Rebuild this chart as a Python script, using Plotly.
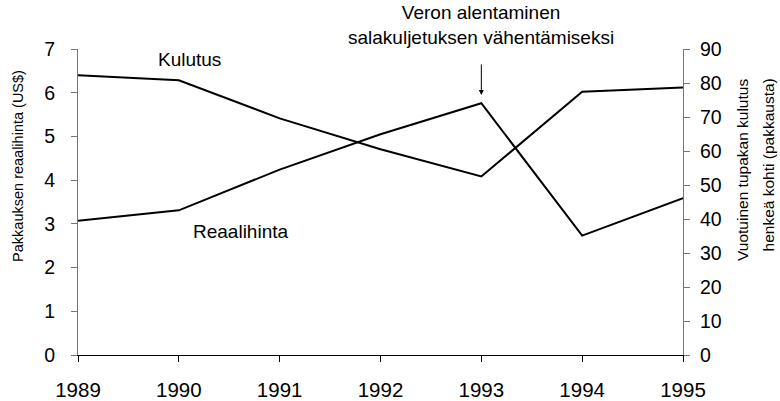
import plotly.graph_objects as go

years = [1989, 1990, 1991, 1992, 1993, 1994, 1995]
reaalihinta = [3.07, 3.31, 4.24, 5.05, 5.76, 2.73, 3.59]   # left axis, US$
kulutus = [82.3, 80.8, 69.6, 60.5, 52.5, 77.4, 78.7]       # right axis, packs

left_ticks = [0, 1, 2, 3, 4, 5, 6, 7]
right_ticks = [0, 10, 20, 30, 40, 50, 60, 70, 80, 90]

FONT = "Liberation Sans, Arial, sans-serif"

fig = go.Figure()
fig.add_trace(go.Scatter(x=years, y=reaalihinta, mode="lines", name="Reaalihinta",
                         line=dict(color="black", width=2), yaxis="y"))
fig.add_trace(go.Scatter(x=years, y=kulutus, mode="lines", name="Kulutus",
                         line=dict(color="black", width=2), yaxis="y2"))

fig.update_layout(
    width=780, height=401,
    margin=dict(l=78, r=97, t=49, b=45.5, autoexpand=False),
    paper_bgcolor="white", plot_bgcolor="white",
    showlegend=False,
    font=dict(family=FONT, color="black", size=20),
    xaxis=dict(range=[1989, 1995], tickvals=years, ticktext=[str(y) for y in years],
               showgrid=False, zeroline=False, showline=True, linecolor="black", linewidth=1,
               ticks="outside", ticklen=6, tickcolor="black", tickfont=dict(size=20.5),
               ticklabelstandoff=10, automargin=False),
    yaxis=dict(range=[0, 7], tickvals=left_ticks, showgrid=False, zeroline=False,
               showline=True, linecolor="#777777", linewidth=1,
               ticks="outside", ticklen=6, tickcolor="#777777", tickfont=dict(size=19.5),
               ticklabelstandoff=12, automargin=False),
    yaxis2=dict(range=[0, 90], tickvals=right_ticks, overlaying="y", side="right",
                showgrid=False, zeroline=False, showline=True, linecolor="#777777", linewidth=1,
                ticks="outside", ticklen=6, tickcolor="#777777", tickfont=dict(size=19.5),
                ticklabelstandoff=6, automargin=False),
)

PW = 605.0
annotations = [
    dict(x=1990.11, y=6.75, xref="x", yref="y", text="Kulutus", showarrow=False,
         font=dict(size=19), xanchor="center", yanchor="middle"),
    dict(x=1990.61, y=2.82, xref="x", yref="y", text="Reaalihinta", showarrow=False,
         font=dict(size=19), xanchor="center", yanchor="middle"),
    dict(x=1993, y=1.078, xref="x", yref="paper",
         text="Veron alentaminen<br>salakuljetuksen vähentämiseksi", showarrow=False,
         font=dict(size=19), xanchor="center", yanchor="middle"),
    dict(x=1993, y=5.95, xref="x", yref="y", text="", showarrow=True,
         ax=0, ay=-32, arrowhead=2, arrowsize=1, arrowwidth=1, arrowcolor="black"),
    dict(x=(18 - 78) / PW, y=0.618, xref="paper", yref="paper",
         text="Pakkauksen reaalihinta (US$)", textangle=-90, showarrow=False,
         font=dict(size=14.5), xanchor="center", yanchor="middle"),
    dict(x=(743 - 78) / PW, y=(355.5 - 77) / 306.5, xref="paper", yref="paper",
         text="Vuotuinen tupakan kulutus", textangle=-90, showarrow=False,
         font=dict(size=15.5), xanchor="center", yanchor="top"),
    dict(x=(768 - 78) / PW, y=(355.5 - 77) / 306.5, xref="paper", yref="paper",
         text="henkeä kohti (pakkausta)", textangle=-90, showarrow=False,
         font=dict(size=15.5), xanchor="center", yanchor="top"),
]
fig.update_layout(annotations=annotations)

fig.write_html("out.html", config={"displayModeBar": False},
               post_script="document.body.style.margin='0';document.body.style.overflow='hidden';")
